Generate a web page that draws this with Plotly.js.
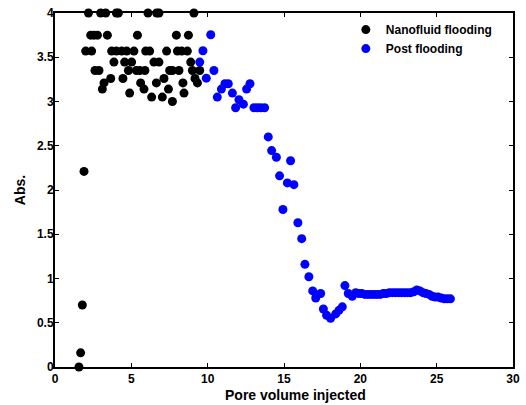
<!DOCTYPE html>
<html>
<head>
<meta charset="utf-8">
<script src="https://cdn.plot.ly/plotly-3.0.1.min.js"></script>
<style>html,body{margin:0;padding:0;background:#fff;}#chart{width:526px;height:405px;}</style>
</head>
<body>
<div id="chart"></div>
<script>
// Nanofluid flooding (black)
const nanoX = [1.57, 1.68, 1.79, 1.90,
  2.19, 2.99, 3.32, 4.02, 4.15, 6.09, 6.66, 6.81, 9.10,
  2.34, 2.55, 2.78, 3.43, 5.40, 7.95, 8.74,
  2.01, 2.40, 3.71, 4.02, 4.37, 4.70, 5.17, 5.94, 6.20, 7.31, 8.02, 8.30, 8.67,
  3.86, 4.56, 5.02, 6.48, 6.81, 8.89,
  2.62, 2.88, 4.81, 5.33, 5.55, 5.89, 7.51, 7.69, 8.12, 9.00, 9.48,
  3.65, 4.45, 7.14, 9.17,
  3.21, 5.61, 6.64, 8.38, 9.33,
  3.10, 5.83, 7.43,
  4.89, 8.45,
  6.33, 7.03,
  7.69];
const nanoY = [0.00, 0.16, 0.70, 2.21,
  4.00, 4.00, 4.00, 4.00, 4.00, 4.00, 4.00, 4.00, 4.00,
  3.75, 3.75, 3.75, 3.75, 3.75, 3.75, 3.75,
  3.57, 3.57, 3.57, 3.57, 3.57, 3.57, 3.57, 3.57, 3.57, 3.57, 3.57, 3.57, 3.57,
  3.445, 3.445, 3.445, 3.445, 3.445, 3.445,
  3.35, 3.35, 3.35, 3.35, 3.35, 3.35, 3.35, 3.35, 3.35, 3.35, 3.35,
  3.26, 3.26, 3.26, 3.26,
  3.21, 3.21, 3.21, 3.21, 3.21,
  3.14, 3.14, 3.14,
  3.095, 3.095,
  3.05, 3.05,
  3.00];

// Post flooding (blue)
const postX = [9.48, 9.69, 9.91, 10.20, 10.41, 10.63, 10.90, 11.13, 11.35, 11.62,
  11.83, 12.05, 12.34, 12.55, 12.77, 13.03, 13.25, 13.47, 13.73, 13.97,
  14.19, 14.50, 14.71, 14.93, 15.22, 15.43, 15.65, 15.91, 16.16, 16.37,
  16.63, 16.88, 17.08, 17.40, 17.58, 17.79, 18.05, 18.39, 18.60, 18.82,
  18.99, 19.21, 19.47, 19.70,
  19.9, 20.1, 20.3, 20.5, 20.7, 20.9, 21.1, 21.3, 21.5, 21.7,
  21.9, 22.1, 22.3, 22.5, 22.7, 22.9, 23.1, 23.3, 23.5, 23.7,
  23.9, 24.1, 24.3, 24.5, 24.7, 24.9, 25.1, 25.3, 25.5, 25.7, 25.9];
const postY = [3.445, 3.573, 3.264, 3.754, 3.35, 3.05, 3.14, 3.20, 3.20, 3.095,
  2.93, 3.02, 2.97, 3.14, 3.20, 2.93, 2.93, 2.93, 2.93, 2.60,
  2.445, 2.37, 2.16, 1.78, 2.08, 2.33, 2.06, 1.63, 1.45, 1.16,
  1.02, 0.86, 0.78, 0.83, 0.655, 0.585, 0.55, 0.60, 0.64, 0.68,
  0.92, 0.83, 0.80, 0.84,
  0.83, 0.83, 0.82, 0.82, 0.82, 0.82, 0.82, 0.82, 0.83, 0.83,
  0.84, 0.84, 0.84, 0.84, 0.84, 0.84, 0.84, 0.84, 0.85, 0.87,
  0.86, 0.84, 0.83, 0.82, 0.80, 0.79, 0.79, 0.78, 0.77, 0.77, 0.77];

const xTicks = [0, 5, 10, 15, 20, 25, 30];
const yTicks = [0, 0.5, 1, 1.5, 2, 2.5, 3, 3.5, 4];
const yTickText = ['0', '0.5', '1', '1.5', '2', '2.5', '3', '3.5', '4'];

const fontFam = 'Arial, "Liberation Sans", sans-serif';

const traces = [
  {x: nanoX, y: nanoY, type: 'scatter', mode: 'markers', name: 'Nanofluid flooding',
   cliponaxis: false, marker: {color: '#000000', size: 9}},
  {x: postX, y: postY, type: 'scatter', mode: 'markers', name: 'Post flooding',
   cliponaxis: false, marker: {color: '#0000ff', size: 9}}
];

const axisCommon = {
  showgrid: false, zeroline: false, showline: true, linecolor: '#000', linewidth: 2,
  mirror: 'ticks', ticks: 'inside', ticklen: 4, tickwidth: 1, tickcolor: '#000',
  tickfont: {family: fontFam, size: 12, color: '#000', weight: 'bold'}
};

const layout = {
  width: 526, height: 405,
  margin: {l: 55, r: 13, t: 13, b: 38},
  paper_bgcolor: '#fff', plot_bgcolor: '#fff',
  showlegend: true,
  legend: {x: 0.635, y: 0.994, xanchor: 'left', yanchor: 'top', bgcolor: 'rgba(0,0,0,0)',
    font: {family: fontFam, size: 12, color: '#000', weight: 'bold'}, tracegroupgap: 0},
  xaxis: Object.assign({}, axisCommon, {
    range: [0, 30], tickvals: xTicks, ticktext: xTicks.map(String)
  }),
  yaxis: Object.assign({}, axisCommon, {
    range: [0, 4], tickvals: yTicks, ticktext: yTickText, ticklabelstandoff: -3,
    title: {text: 'Abs.', standoff: 8,
      font: {family: fontFam, size: 14, color: '#000', weight: 'bold'}}
  }),
  annotations: [{
    text: 'Pore volume injected', xref: 'paper', yref: 'paper',
    x: 0.526, y: 0, yshift: -28, xanchor: 'center', yanchor: 'middle', showarrow: false,
    font: {family: fontFam, size: 14, color: '#000', weight: 'bold'}
  }]
};

Plotly.newPlot('chart', traces, layout, {displayModeBar: false, staticPlot: true});
</script>
</body>
</html>
